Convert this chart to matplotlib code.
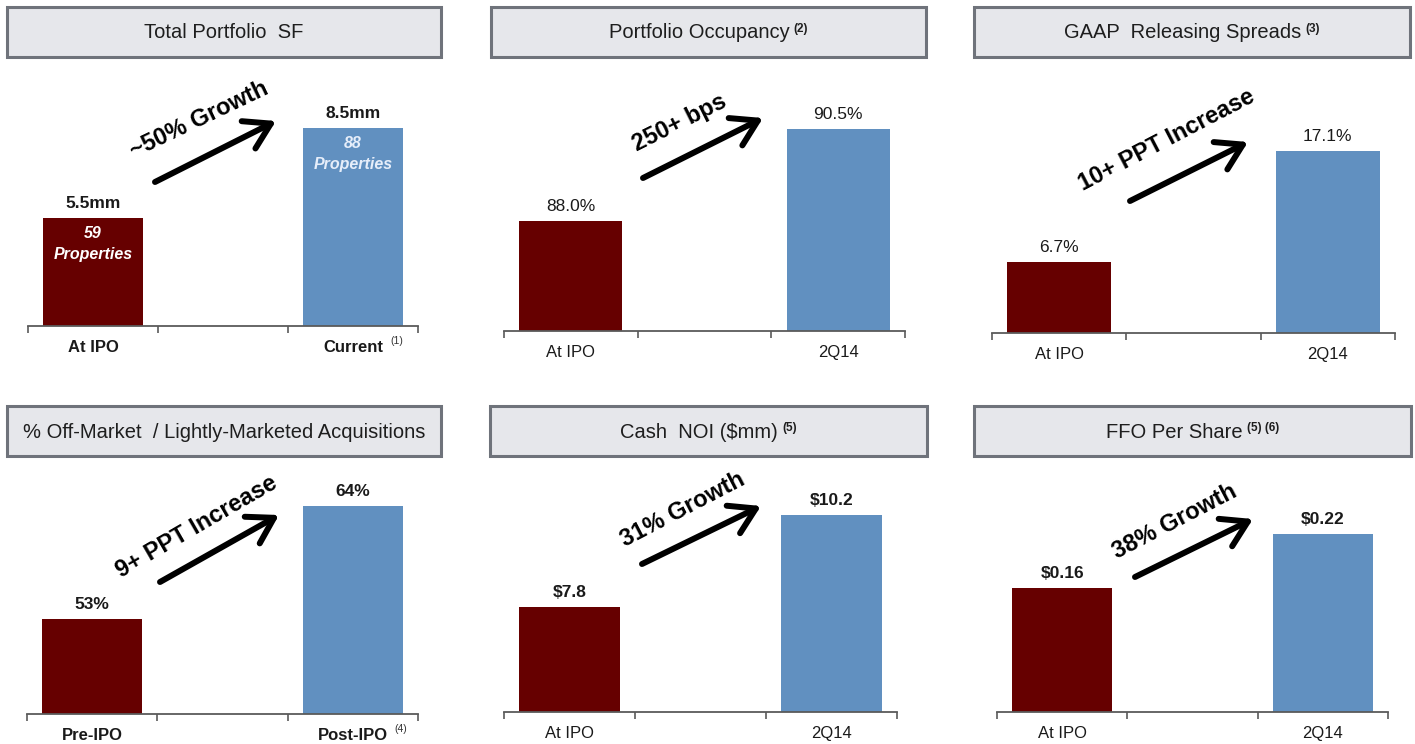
import matplotlib
matplotlib.use('Agg')
import matplotlib.pyplot as plt
from matplotlib.patches import Rectangle

plt.rcParams['font.family'] = ['Liberation Sans', 'DejaVu Sans']

# ---- data ----
titles = ['Total Portfolio  SF', 'Portfolio Occupancy', 'GAAP  Releasing Spreads',
          '% Off-Market  / Lightly-Marketed Acquisitions', 'Cash  NOI ($mm)', 'FFO Per Share']
title_notes = ['', '(2)', '(3)', '', '(5)', '(5) (6)']
left_cats = ['At IPO', 'At IPO', 'At IPO', 'Pre-IPO', 'At IPO', 'At IPO']
right_cats = ['Current', '2Q14', '2Q14', 'Post-IPO', '2Q14', '2Q14']
right_cat_notes = ['(1)', '', '', '(4)', '', '']
left_values = [5.5, 88.0, 6.7, 53, 7.8, 0.16]
right_values = [8.5, 90.5, 17.1, 64, 10.2, 0.22]
left_labels = ['5.5mm', '88.0%', '6.7%', '53%', '$7.8', '$0.16']
right_labels = ['8.5mm', '90.5%', '17.1%', '64%', '$10.2', '$0.22']
inner_left = ['59\nProperties', '', '', '', '', '']
inner_right = ['88\nProperties', '', '', '', '', '']
growth_labels = ['~50% Growth', '250+ bps', '10+ PPT Increase', '9+ PPT Increase',
                 '31% Growth', '38% Growth']

# ---- layout (pixels of the 1415x744 canvas) ----
W, H = 1415, 744
box_x = [(7, 441), (491, 926), (974, 1410), (7, 441), (490, 927), (974, 1411)]
box_top = [7, 7, 7, 406, 406, 406]
box_h = 50
ax_x = [(28, 418), (504, 905), (992, 1395), (27, 418), (504, 897), (997, 1388)]
ax_base = [326, 331, 333, 714, 712, 712]
ax_top = [75, 75, 75, 470, 470, 470]
ylims = [(1.9, 10.27), (85.0, 91.96), (0, 24.25), (43.75, 67.51), (5.06, 11.37), (0.0222, 0.291)]
value_weight = ['bold', 'normal', 'normal', 'bold', 'bold', 'bold']
cat_weight = ['bold', 'normal', 'normal', 'bold', 'normal', 'normal']
arrows = [((155, 182), (276, 121)), ((643, 178), (763, 118)), ((1130, 201), (1248, 142)),
          ((160, 582), (279, 515)), ((642, 564), (761, 506)), ((1135, 577), (1253, 519))]
growth_pos = [(199, 120, 25.5), (680, 123, 26.5), (1167, 140, 27.5), (197, 527, 30),
              (683, 510, 27.5), (1175, 522, 27.5)]

red = '#660000'
blue = '#6190c0'
axis_grey = '#5a5a5a'

fig = plt.figure(figsize=(W / 100, H / 100), dpi=100)
fig.patch.set_facecolor('white')

title_pairs = []
for i in range(6):
    # title box
    x0, x1 = box_x[i]
    rect = Rectangle((x0 / W, 1 - (box_top[i] + box_h) / H), (x1 - x0) / W, box_h / H,
                     transform=fig.transFigure, facecolor='#e6e7eb', edgecolor='#6f737b', lw=2.2)
    fig.add_artist(rect)
    t = fig.text((x0 + x1) / 2 / W, 1 - (box_top[i] + box_h / 2 + 1) / H, titles[i],
                 ha='center', va='center', fontsize=14.5, color='#1e1e1e')
    if title_notes[i]:
        n = fig.text(0, 0, title_notes[i], fontsize=8.5, fontweight='bold', color='#1e1e1e',
                     ha='left', va='center')
        n.set_transform(matplotlib.transforms.IdentityTransform())
        title_pairs.append((t, n))

    # chart axes
    a0, a1 = ax_x[i]
    ax = fig.add_axes([a0 / W, 1 - ax_base[i] / H, (a1 - a0) / W, (ax_base[i] - ax_top[i]) / H])
    ax.set_facecolor('none')
    ax.bar([0, 2], [left_values[i], right_values[i]], width=0.77, color=[red, blue])
    ax.set_xlim(-0.5, 2.5)
    ax.set_ylim(*ylims[i])
    for s in ['top', 'right', 'left']:
        ax.spines[s].set_visible(False)
    ax.spines['bottom'].set_color(axis_grey)
    ax.spines['bottom'].set_linewidth(1.3)
    ax.set_yticks([])
    ax.set_xticks([-0.5, 0.5, 1.5, 2.5])
    ax.set_xticklabels([])
    ax.tick_params(axis='x', length=5, width=1.2, color=axis_grey, direction='out')

    # value labels
    for xv, v, lab in [(0, left_values[i], left_labels[i]), (2, right_values[i], right_labels[i])]:
        ax.annotate(lab, xy=(xv, v), xytext=(0, 5), textcoords='offset points',
                    ha='center', va='bottom', fontsize=12.5, fontweight=value_weight[i],
                    color='#1a1a1a', annotation_clip=False)

    # text inside bars
    for xv, v, lab, c in [(0, left_values[i], inner_left[i], 'white'),
                          (2, right_values[i], inner_right[i], '#e6eefa')]:
        if lab:
            ax.annotate(lab, xy=(xv, v), xytext=(0, -6), textcoords='offset points',
                        ha='center', va='top', fontsize=11.5, fontweight='bold',
                        fontstyle='italic', color=c, linespacing=1.5)

    # category labels
    ax.annotate(left_cats[i], xy=(0, 0), xycoords=('data', 'axes fraction'),
                xytext=(0, -10), textcoords='offset points', ha='center', va='top',
                fontsize=12, fontweight=cat_weight[i], color='#1a1a1a',
                annotation_clip=False)
    cr = ax.annotate(right_cats[i], xy=(2, 0), xycoords=('data', 'axes fraction'),
                     xytext=(0, -10), textcoords='offset points', ha='center', va='top',
                     fontsize=12, fontweight=cat_weight[i], color='#1a1a1a',
                     annotation_clip=False)
    if right_cat_notes[i]:
        ax.annotate(right_cat_notes[i], xy=(1, 0.95), xycoords=cr, xytext=(5, 0),
                    textcoords='offset points', ha='left', va='center', fontsize=7.5,
                    color='#333333')

    # growth arrow + label
    (sx, sy), (ex, ey) = arrows[i]
    fig.add_artist(matplotlib.patches.FancyArrowPatch(
        (sx / W, 1 - sy / H), (ex / W, 1 - ey / H), transform=fig.transFigure,
        arrowstyle='->,head_length=0.9,head_width=0.55', mutation_scale=20,
        lw=4.3, color='black', shrinkA=0, shrinkB=0))
    gx, gy, ang = growth_pos[i]
    fig.text(gx / W, 1 - gy / H, growth_labels[i], rotation=ang, rotation_mode='anchor',
             ha='center', va='center', fontsize=17, fontweight='bold', color='black')

# place title footnotes right after their titles and re-centre the pair
fig.canvas.draw()
r = fig.canvas.get_renderer()
for t, n in title_pairs:
    nw = n.get_window_extent(r).width
    x, y = t.get_position()
    t.set_position((x - (nw + 4) / 2 / W, y))
    bb = t.get_window_extent(r)
    n.set_position((bb.x1 + 4, bb.y0 + bb.height * 0.72))

fig.savefig('out.png', dpi=100, facecolor='white')
